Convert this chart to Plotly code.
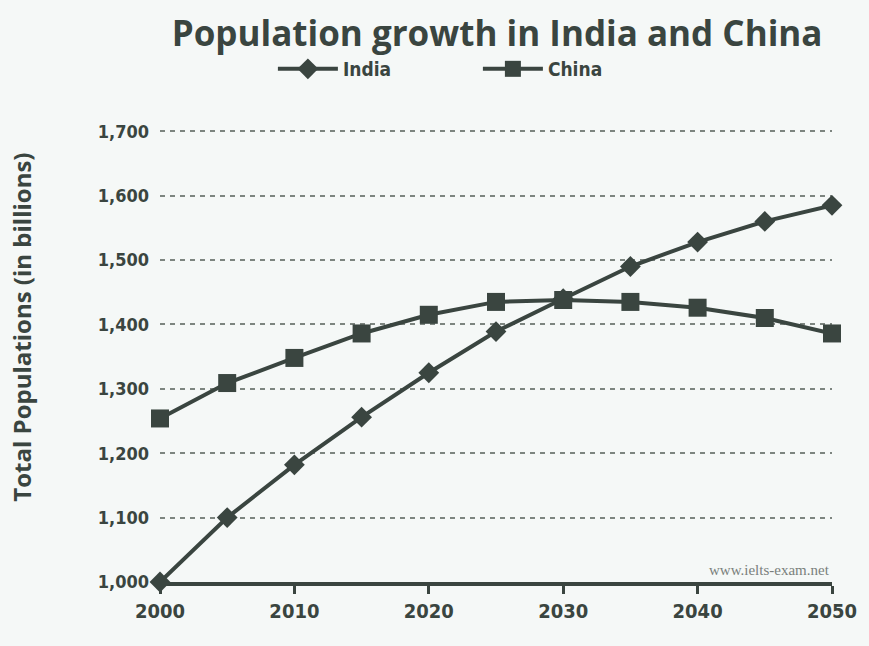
import plotly.graph_objects as go

years = [2000, 2005, 2010, 2015, 2020, 2025, 2030, 2035, 2040, 2045, 2050]
india = [1000, 1100, 1182, 1256, 1325, 1389, 1440, 1490, 1528, 1560, 1585]
china = [1254, 1309, 1348, 1386, 1415, 1435, 1438, 1435, 1426, 1410, 1386]
x_ticks = [2000, 2010, 2020, 2030, 2040, 2050]
y_ticks = [1000, 1100, 1200, 1300, 1400, 1500, 1600, 1700]
y_tick_text = ["1,000", "1,100", "1,200", "1,300", "1,400", "1,500", "1,600", "1,700"]

ink = "#3a4540"
bg = "#f5f8f7"
narrow = "DejaVu Sans Condensed, Liberation Sans Narrow, Arial Narrow, sans-serif"
sans = "Open Sans, Lato, sans-serif"

fig = go.Figure()
fig.add_trace(go.Scatter(
    x=years, y=india, name="India", mode="lines+markers",
    line=dict(color=ink, width=4),
    marker=dict(symbol="diamond", size=16, color=ink),
    cliponaxis=False,
))
fig.add_trace(go.Scatter(
    x=years, y=china, name="China", mode="lines+markers",
    line=dict(color=ink, width=4),
    marker=dict(symbol="square", size=18, color=ink),
    cliponaxis=False,
))

fig.update_layout(
    width=869, height=646,
    margin=dict(l=160, r=32, t=130, b=64),
    paper_bgcolor=bg, plot_bgcolor=bg,
    title=dict(text="<b>Population growth in India and China</b>",
               x=0.572, xanchor="center", y=0.947, yanchor="middle",
               font=dict(family=sans, size=35, color=ink)),
    legend=dict(orientation="h", x=0.168, xanchor="left", y=1.135, yanchor="middle",
                font=dict(family=narrow, size=19, color=ink, weight="bold"),
                bgcolor="rgba(0,0,0,0)", entrywidth=130, entrywidthmode="pixels",
                itemwidth=60),
    showlegend=True,
    xaxis=dict(range=[2000, 2050], tickvals=x_ticks, showgrid=False,
               showline=True, linecolor=ink, linewidth=4,
               ticks="outside", ticklen=8, tickwidth=3, tickcolor=ink,
               tickfont=dict(family=narrow, size=20, color=ink, weight="bold"),
               zeroline=False),
    yaxis=dict(range=[1000, 1702], tickvals=y_ticks, ticktext=y_tick_text,
               showgrid=True, gridcolor="#7d8580", griddash="5px,5px", gridwidth=1.5,
               showline=False, zeroline=False, ticks="", ticklabelstandoff=10,
               tickfont=dict(family=narrow, size=18, color=ink, weight="bold")),
    annotations=[
        dict(text="<b>Total Populations (in billions)</b>", textangle=-90,
             x=-0.206, xref="paper", xanchor="center",
             y=0.564, yref="paper", yanchor="middle", showarrow=False,
             font=dict(family=sans, size=24, color=ink)),
        dict(text="www.ielts-exam.net", x=1.0, xref="paper", xanchor="right",
             y=1000, yref="y", yanchor="bottom", yshift=2, showarrow=False,
             font=dict(family="Liberation Serif, serif", size=15, color="#7a807c")),
    ],
)

fig.write_html("out.html")
